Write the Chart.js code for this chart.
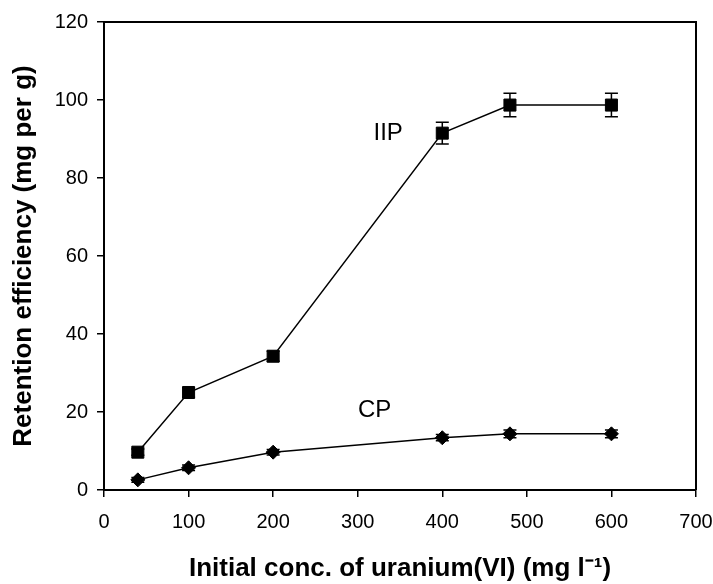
<!DOCTYPE html>
<html>
<head>
<meta charset="utf-8">
<script src="https://cdn.jsdelivr.net/npm/chart.js@4/dist/chart.umd.min.js"></script>
<style>
    html, body { margin: 0; padding: 0; background: #fff; }
    #wrap { width: 713px; height: 584px; }
</style>
</head>
<body>
<div id="wrap"><canvas id="uranium-chart" width="713" height="584"></canvas></div>
<script>
// Data
const concentrations = [40, 100, 200, 400, 480, 600];
const iipValues = [9.7, 25.0, 34.3, 91.5, 98.7, 98.7];
const iipErrors = [0.8, 1.2, 1.3, 2.8, 3.0, 3.0];
const cpValues = [2.6, 5.7, 9.7, 13.4, 14.4, 14.4];
const cpErrors = [0.6, 0.7, 0.7, 0.8, 1.0, 1.0];
const xTickValues = [0, 100, 200, 300, 400, 500, 600, 700];
const yTickValues = [0, 20, 40, 60, 80, 100, 120];
const seriesNames = ['IIP', 'CP'];
// where the series names sit, in data units (x, y)
const nameAnchors = [[336, 91.4], [320, 20.5]];

const FONT = 'Arial, "Liberation Sans", sans-serif';

function toPoints(xs, ys) {
    return xs.map((x, i) => ({ x: x, y: ys[i] }));
}

// Draws the vertical error bars with caps, under the markers
const errorBarPlugin = {
    id: 'errorBars',
    beforeDatasetsDraw(chart) {
        const { ctx, scales } = chart;
        const errors = [iipErrors, cpErrors];
        ctx.save();
        ctx.strokeStyle = '#000';
        ctx.lineWidth = 1.5;
        chart.data.datasets.forEach((ds, d) => {
            ds.data.forEach((p, i) => {
                const x = scales.x.getPixelForValue(p.x);
                const yTop = scales.y.getPixelForValue(p.y + errors[d][i]);
                const yBot = scales.y.getPixelForValue(p.y - errors[d][i]);
                ctx.beginPath();
                ctx.moveTo(x, yTop);
                ctx.lineTo(x, yBot);
                ctx.moveTo(x - 6.5, yTop);
                ctx.lineTo(x + 6.5, yTop);
                ctx.moveTo(x - 6.5, yBot);
                ctx.lineTo(x + 6.5, yBot);
                ctx.stroke();
            });
        });
        ctx.restore();
    }
};

// Top and right edges of the plot box
const framePlugin = {
    id: 'frame',
    afterDraw(chart) {
        const { ctx, chartArea } = chart;
        ctx.save();
        ctx.strokeStyle = '#000';
        ctx.lineWidth = 2;
        ctx.beginPath();
        ctx.moveTo(chartArea.left, chartArea.top);
        ctx.lineTo(chartArea.right, chartArea.top);
        ctx.lineTo(chartArea.right, chartArea.bottom);
        ctx.stroke();
        ctx.restore();
    }
};

// Series names written next to the curves
const seriesNamePlugin = {
    id: 'seriesNames',
    afterDatasetsDraw(chart) {
        const { ctx, scales } = chart;
        ctx.save();
        ctx.fillStyle = '#000';
        ctx.font = '24px ' + FONT;
        ctx.textAlign = 'center';
        ctx.textBaseline = 'middle';
        seriesNames.forEach((name, i) => {
            ctx.fillText(name,
                scales.x.getPixelForValue(nameAnchors[i][0]),
                scales.y.getPixelForValue(nameAnchors[i][1]));
        });
        ctx.restore();
    }
};

const axisGrid = {
    drawOnChartArea: false,
    drawTicks: true,
    tickLength: 7,
    color: '#000',
    lineWidth: 1.5
};

new Chart(document.getElementById('uranium-chart'), {
    type: 'line',
    data: {
        datasets: [
            {
                label: seriesNames[0],
                data: toPoints(concentrations, iipValues),
                borderColor: '#000',
                borderWidth: 1.5,
                backgroundColor: '#000',
                pointStyle: 'rect',
                pointRadius: 8.5,
                pointBorderWidth: 1,
                tension: 0
            },
            {
                label: seriesNames[1],
                data: toPoints(concentrations, cpValues),
                borderColor: '#000',
                borderWidth: 1.5,
                backgroundColor: '#000',
                pointStyle: 'rectRot',
                pointRadius: 7,
                pointBorderWidth: 1,
                tension: 0
            }
        ]
    },
    options: {
        responsive: false,
        animation: false,
        layout: { padding: { top: 22, right: 17, bottom: 0, left: 0 } },
        plugins: {
            legend: { display: false },
            tooltip: { enabled: false }
        },
        scales: {
            x: {
                type: 'linear',
                min: 0,
                max: 700,
                afterBuildTicks: (scale) => { scale.ticks = xTickValues.map(v => ({ value: v })); },
                afterFit: (scale) => {
                    scale.height = 94;
                    scale.paddingLeft = 0;
                    scale.paddingRight = 0;
                },
                grid: axisGrid,
                border: { display: true, color: '#000', width: 2 },
                ticks: {
                    color: '#000',
                    font: { size: 20, family: FONT },
                    padding: 13,
                    maxRotation: 0,
                    autoSkip: false
                },
                title: {
                    display: true,
                    text: 'Initial conc. of uranium(VI) (mg l\u207B\u00B9)',
                    color: '#000',
                    font: { size: 26, weight: 'bold', family: FONT },
                    padding: { top: 0, bottom: 0 }
                }
            },
            y: {
                type: 'linear',
                min: 0,
                max: 120,
                afterBuildTicks: (scale) => { scale.ticks = yTickValues.map(v => ({ value: v })); },
                afterFit: (scale) => {
                    scale.width = 104;
                    scale.paddingTop = 0;
                    scale.paddingBottom = 0;
                },
                grid: axisGrid,
                border: { display: true, color: '#000', width: 2 },
                ticks: {
                    color: '#000',
                    font: { size: 20, family: FONT },
                    padding: 9
                },
                title: {
                    display: true,
                    text: 'Retention efficiency (mg per g)',
                    color: '#000',
                    font: { size: 26, weight: 'bold', family: FONT },
                    padding: { top: 8, bottom: 0 }
                }
            }
        }
    },
    plugins: [errorBarPlugin, framePlugin, seriesNamePlugin]
});
</script>
</body>
</html>
